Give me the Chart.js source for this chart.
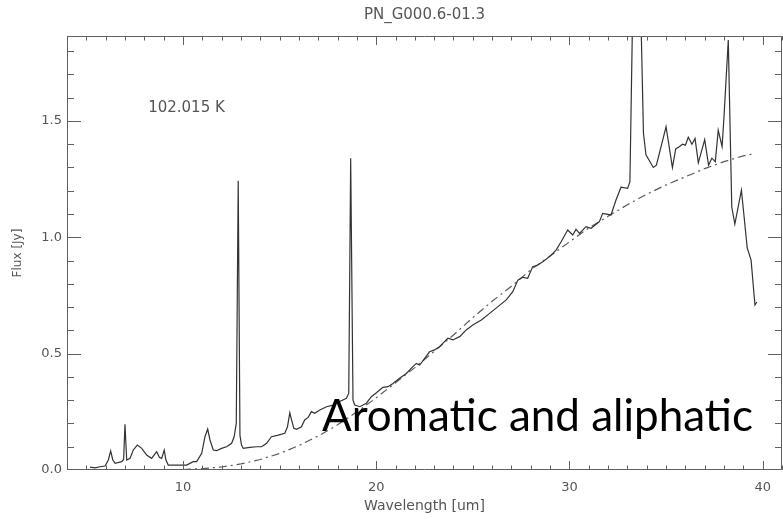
<!DOCTYPE html>
<html>
<head>
<meta charset="utf-8">
<script src="https://cdn.jsdelivr.net/npm/chart.js@4/dist/chart.umd.min.js"></script>
<style>
  html, body { margin: 0; padding: 0; background: #ffffff; }
  #wrap { position: relative; width: 783px; height: 519px; }
  canvas { display: block; }
</style>
</head>
<body>
<div id="wrap"><canvas id="c" width="783" height="519"></canvas></div>
<script>
// ---- Data ----
const chartTitle = "PN_G000.6-01.3";
const xAxisTitle = "Wavelength [um]";
const yAxisTitle = "Flux [Jy]";
const tempLabel = "102.015 K";
const overlayText = "Aromatic and aliphatic";

const xTickValues = [10, 20, 30, 40];
const yTickValues = [0.0, 0.5, 1.0, 1.5];
const yTickLabels = ["0.0", "0.5", "1.0", "1.5"];

// observed spectrum
const specWave = [5.19,5.45,5.71,5.97,6.14,6.26,6.37,6.49,6.83,6.93,7.00,7.09,7.26,7.43,7.64,7.87,8.12,8.38,8.64,8.78,8.90,9.03,9.12,9.24,9.67,10.19,10.53,10.71,10.97,11.14,11.28,11.40,11.57,11.74,12.00,12.26,12.52,12.65,12.76,12.86,12.95,13.03,13.12,13.46,13.81,14.07,14.33,14.58,14.93,15.27,15.41,15.53,15.62,15.74,15.88,16.13,16.30,16.48,16.65,16.82,17.08,17.43,17.77,18.11,18.46,18.58,18.68,18.80,18.89,19.15,19.49,19.75,20.01,20.35,20.61,20.87,21.21,21.56,21.90,22.08,22.25,22.51,22.76,23.02,23.28,23.45,23.71,23.97,24.32,24.66,25.00,25.44,25.87,26.30,26.73,27.07,27.33,27.59,27.84,28.10,28.36,28.62,28.97,29.31,29.57,29.91,30.17,30.34,30.52,30.86,31.12,31.55,31.72,32.15,32.41,32.67,33.01,33.13,33.45,33.83,33.96,34.34,34.50,35.00,35.33,35.50,35.70,35.85,36.00,36.15,36.34,36.50,36.67,37.00,37.20,37.37,37.55,37.70,37.90,38.00,38.22,38.35,38.40,38.56,38.90,39.20,39.40,39.60,39.70];
const specFlux = [0.012,0.009,0.014,0.017,0.043,0.082,0.043,0.029,0.036,0.045,0.196,0.043,0.050,0.086,0.107,0.093,0.064,0.050,0.079,0.055,0.050,0.086,0.043,0.021,0.021,0.021,0.036,0.036,0.072,0.143,0.176,0.129,0.086,0.083,0.093,0.100,0.115,0.143,0.200,1.243,0.150,0.107,0.093,0.097,0.100,0.100,0.115,0.143,0.150,0.158,0.186,0.246,0.215,0.179,0.175,0.186,0.215,0.226,0.251,0.244,0.258,0.272,0.279,0.294,0.308,0.330,1.340,0.300,0.279,0.272,0.287,0.315,0.332,0.355,0.358,0.372,0.394,0.415,0.444,0.458,0.451,0.480,0.508,0.516,0.530,0.544,0.566,0.559,0.573,0.602,0.623,0.645,0.673,0.702,0.731,0.766,0.816,0.828,0.824,0.874,0.881,0.895,0.917,0.945,0.981,1.031,1.010,1.034,1.017,1.046,1.039,1.067,1.103,1.096,1.160,1.215,1.210,1.239,2.900,1.448,1.354,1.300,1.310,1.475,1.300,1.380,1.390,1.400,1.396,1.430,1.400,1.425,1.320,1.420,1.310,1.340,1.325,1.460,1.390,1.520,1.848,1.330,1.130,1.057,1.203,0.954,0.902,0.709,0.722];

// fitted 102 K continuum (dash-dot)
const bbWave = [10,11,12,13,14,15,16,17,18,19,20,21,22,23,24,25,26,27,28,29,30,31,32,33,34,35,36,37,38,39,39.6];
const bbFlux = [0.002,0.006,0.013,0.026,0.045,0.071,0.105,0.146,0.194,0.250,0.310,0.375,0.440,0.510,0.580,0.655,0.725,0.790,0.860,0.920,0.980,1.040,1.090,1.140,1.185,1.225,1.260,1.295,1.325,1.350,1.360];

const xMin = 4, xMax = 41, yMin = 0, yMax = 1.865;

// ---- build points ----
const specPts = specWave.map((w, i) => ({ x: w, y: specFlux[i] }));
const bbPts = bbWave.map((w, i) => ({ x: w, y: bbFlux[i] }));

const axisColor = "#606060";
const textColor = "#555555";
const axisFont = "DejaVu Sans";

const framePlugin = {
  id: "frame",
  afterDraw(chart) {
    const ctx = chart.ctx;
    const { left, right, top, bottom } = chart.chartArea;
    const xs = chart.scales.x, ys = chart.scales.y;
    ctx.save();
    ctx.strokeStyle = axisColor;
    ctx.lineWidth = 1;
    ctx.beginPath();
    ctx.rect(left + 0.5, top + 0.5, right - left - 1, bottom - top - 1);
    ctx.stroke();
    // x ticks (major every 10, minor every 1), bottom and top, pointing inward
    ctx.beginPath();
    for (let v = Math.ceil(xMin); v <= Math.floor(xMax); v++) {
      const major = xTickValues.includes(v);
      const len = major ? 9 : 4.5;
      const px = Math.round(xs.getPixelForValue(v)) + 0.5;
      ctx.moveTo(px, bottom); ctx.lineTo(px, bottom - len);
      ctx.moveTo(px, top); ctx.lineTo(px, top + len);
    }
    // y ticks (major every 0.5, minor every 0.1), left and right
    for (let k = 1; k * 0.1 <= yMax; k++) {
      const v = k * 0.1;
      const major = k % 5 === 0;
      const len = major ? 14 : 7;
      const py = Math.round(ys.getPixelForValue(v)) + 0.5;
      ctx.moveTo(left, py); ctx.lineTo(left + len, py);
      ctx.moveTo(right, py); ctx.lineTo(right - len, py);
    }
    ctx.stroke();
    // temperature label
    ctx.fillStyle = textColor;
    ctx.font = "15px '" + axisFont + "'";
    ctx.textBaseline = "middle";
    ctx.textAlign = "left";
    ctx.fillText(tempLabel, xs.getPixelForValue(8.2), ys.getPixelForValue(1.556));
    // overlay caption
    ctx.fillStyle = "#000000";
    ctx.font = "44px Lato";
    ctx.textBaseline = "alphabetic";
    ctx.fillText(overlayText, 322, 431);
    ctx.restore();
  }
};

new Chart(document.getElementById("c"), {
  type: "scatter",
  data: {
    datasets: [
      {
        label: "spectrum",
        data: specPts,
        showLine: true,
        borderColor: "#333333",
        borderWidth: 1.2,
        pointRadius: 0,
        tension: 0
      },
      {
        label: "blackbody",
        data: bbPts,
        showLine: true,
        borderColor: "#5a5a5a",
        borderWidth: 1.2,
        borderDash: [8, 4, 2, 4],
        pointRadius: 0,
        tension: 0
      }
    ]
  },
  options: {
    responsive: false,
    devicePixelRatio: 1,
    animation: false,
    layout: { padding: { left: 0, right: 1, top: 0, bottom: 0 } },
    plugins: {
      legend: { display: false },
      tooltip: { enabled: false },
      title: {
        display: true,
        fullSize: false,
        text: chartTitle,
        color: textColor,
        font: { family: axisFont, size: 15, weight: "normal", lineHeight: 1.2 },
        padding: { top: 6, bottom: 12 }
      }
    },
    scales: {
      x: {
        type: "linear",
        min: xMin, max: xMax,
        grid: { display: false, drawTicks: false },
        border: { display: false },
        afterFit(s) { s.height = 49; },
        afterBuildTicks(s) { s.ticks = xTickValues.map(v => ({ value: v })); },
        ticks: {
          color: textColor,
          font: { family: axisFont, size: 13 },
          padding: 10,
          maxRotation: 0,
          callback: (v) => String(v)
        },
        title: {
          display: true,
          text: xAxisTitle,
          color: textColor,
          font: { family: axisFont, size: 14 },
          padding: { top: 0, bottom: 4 }
        }
      },
      y: {
        type: "linear",
        min: yMin, max: yMax,
        grid: { display: false, drawTicks: false },
        border: { display: false },
        afterFit(s) { s.width = 67; },
        afterBuildTicks(s) { s.ticks = yTickValues.map(v => ({ value: v })); },
        ticks: {
          color: textColor,
          font: { family: axisFont, size: 13 },
          padding: 5,
          callback: (v) => yTickLabels[yTickValues.indexOf(v)] ?? ""
        },
        title: {
          display: true,
          text: yAxisTitle,
          color: textColor,
          font: { family: axisFont, size: 12 },
          padding: { top: 11, bottom: 0 }
        }
      }
    }
  },
  plugins: [framePlugin]
});
</script>
</body>
</html>
